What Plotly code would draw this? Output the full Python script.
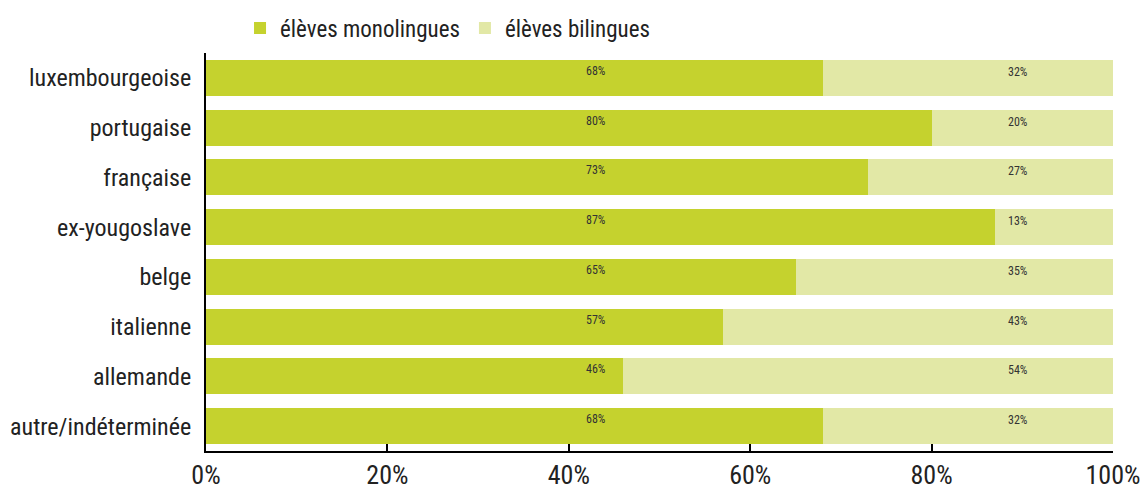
import plotly.graph_objects as go

categories = ["luxembourgeoise", "portugaise", "française", "ex-yougoslave",
              "belge", "italienne", "allemande", "autre/indéterminée"]
mono = [68, 80, 73, 87, 65, 57, 46, 68]
bili = [32, 20, 27, 13, 35, 43, 54, 32]
tick_vals = [0, 20, 40, 60, 80, 100]
tick_text = ["0%", "20%", "40%", "60%", "80%", "100%"]

FONT = "Liberation Sans Narrow, Roboto Condensed, Arial Narrow, sans-serif"
C_MONO = "#C5D22E"
C_BILI = "#E2E8A6"

fig = go.Figure()
fig.add_trace(go.Bar(y=categories, x=mono, orientation="h", name="élèves monolingues",
                     marker=dict(color=C_MONO, line=dict(width=0))))
fig.add_trace(go.Bar(y=categories, x=bili, orientation="h", name="élèves bilingues",
                     marker=dict(color=C_BILI, line=dict(width=0))))

for c, m, b in zip(categories, mono, bili):
    fig.add_annotation(x=43, y=c, xref="x", yref="y", text=f"{m}%", showarrow=False,
                       yshift=7, font=dict(family=FONT, size=12, color="#333"))
    fig.add_annotation(x=89.5, y=c, xref="x", yref="y", text=f"{b}%", showarrow=False,
                       yshift=6, font=dict(family=FONT, size=12, color="#333"))

fig.update_layout(
    width=1143, height=489,
    barmode="stack", bargap=0.28,
    paper_bgcolor="white", plot_bgcolor="white",
    margin=dict(l=206, r=30, t=53, b=38, autoexpand=False),
    font=dict(family=FONT, size=24, color="#222"),
    legend=dict(orientation="h", xref="container", yref="container",
                x=0.21, xanchor="left", y=1 - 28 / 489, yanchor="middle",
                font=dict(family=FONT, size=23, color="#222"), traceorder="normal",
                bgcolor="rgba(0,0,0,0)"),
    showlegend=True,
)
fig.update_xaxes(range=[0, 100], tickvals=tick_vals, ticktext=tick_text,
                 showgrid=False, zeroline=False, showline=True, linecolor="black",
                 linewidth=2, ticks="inside", ticklen=7, tickwidth=2, tickcolor="black",
                 automargin=False,
                 tickfont=dict(family=FONT, size=26, color="#222"))
fig.update_yaxes(categoryorder="array", categoryarray=categories[::-1],
                 showgrid=False, zeroline=False, showline=True, linecolor="black",
                 linewidth=2, ticks="", ticklabelstandoff=8, automargin=False,
                 tickfont=dict(family=FONT, size=24, color="#222"))

fig.write_html("out.html", config={"displayModeBar": False},
               post_script="document.body.style.margin='0';document.body.style.overflow='hidden';")
